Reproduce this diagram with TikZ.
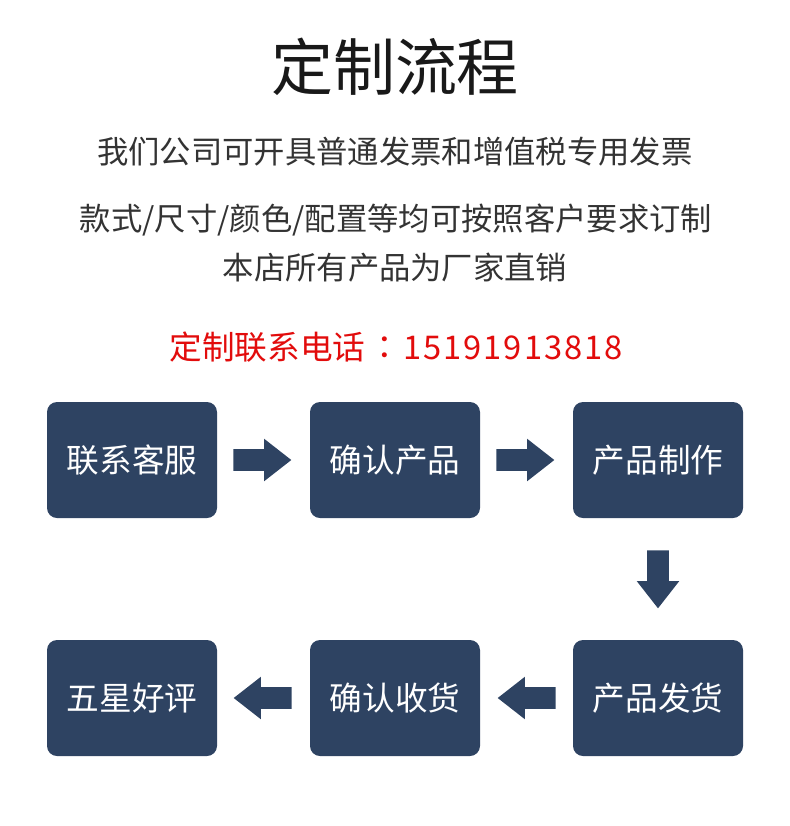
\documentclass[tikz,border=0pt]{standalone}
\usepackage{fontspec}
\setmainfont{Noto Sans CJK SC}
\newfontfamily\jpfont{Noto Sans CJK JP}
\newfontfamily\telfont[LetterSpace=6]{Noto Sans CJK SC}
\usetikzlibrary{shapes.arrows,calc}
\definecolor{navy}{RGB}{46,67,98}
\definecolor{hotred}{RGB}{226,12,12}
\definecolor{darktext}{RGB}{51,51,51}

\begin{document}
\begin{tikzpicture}[
  x=0.75pt, y=-0.75pt,
  every node/.style={inner sep=1pt},
  step box/.style={rectangle, rounded corners=7.5pt, fill=navy, text=white,
    minimum width=127.5pt, minimum height=87pt, inner sep=0pt,
    font=\fontsize{24.5pt}{28pt}\selectfont},
  line/.style={text=darktext, font=\fontsize{23.5pt}{28pt}\selectfont},
  % the fat arrows between the boxes, placed by their tips
  flow/.style={single arrow, fill=navy, inner xsep=0pt, inner ysep=7.875pt,
    minimum height=43.5pt, single arrow head extend=7.875pt,
    single arrow tip angle=76, anchor=tip},
  flow down/.style={flow, shape border rotate=270, inner xsep=7.875pt, inner ysep=0pt}]

  \useasboundingbox (0,0) rectangle (790,826);

  % texts at the top
  \node[font=\fontsize{46.5pt}{50pt}\selectfont, text=black!90] (title) at (395,67) {定制流程};
  \node[line] (l1) at (395,152) {我们公司可开具普通发票和增值税专用发票};
  \node[line] (l2) at (396,220) {款式/尺寸/颜色/配置等均可按照客户要求订制};
  \node[line] (l3) at (395,268) {本店所有产品为厂家直销};
  \node[text=hotred, font=\fontsize{24.5pt}{28pt}\selectfont] (tel) at (396,347)
    {定制联系电话\hspace{2pt}{\jpfont ：}\hspace{2pt}{\telfont 15191913818}};

  % vertices
  \node[step box] (s1) at (132,460) {联系客服};
  \node[step box] (s2) at (395,460) {确认产品};
  \node[step box] (s3) at (658,460) {产品制作};
  \node[step box] (s4) at (658,698) {产品发货};
  \node[step box] (s5) at (395,698) {确认收货};
  \node[step box] (s6) at (132,698) {五星好评};

  % arrows
  \node[flow] (a1) at ($(s2.west)+(-18,0)$) {};
  \node[flow] (a2) at ($(s3.west)+(-18,0)$) {};
  \node[flow down] (a3) at ($(s4.north)+(0,-31)$) {};
  \node[flow, shape border rotate=180] (a4) at ($(s5.east)+(17,0)$) {};
  \node[flow, shape border rotate=180] (a5) at ($(s6.east)+(16,0)$) {};
\end{tikzpicture}
\end{document}
